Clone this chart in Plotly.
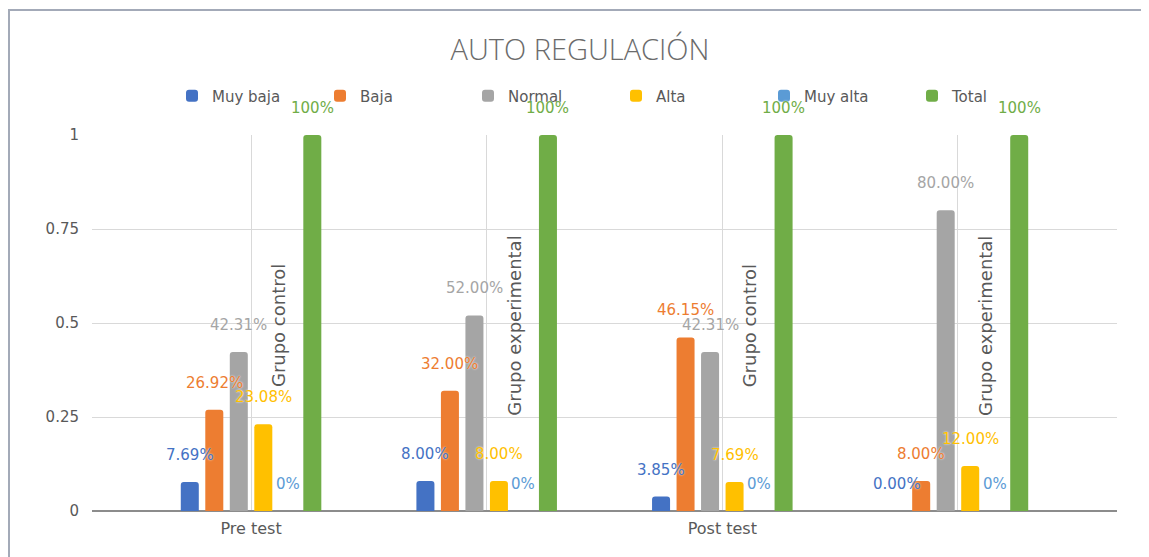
import plotly.graph_objects as go

# ---------------- data ----------------
categories = ["Pre test · Grupo control", "Pre test · Grupo experimental",
              "Post test · Grupo control", "Post test · Grupo experimental"]
tick_text = ["Pre test", "", "Post test", ""]
group_labels = ["Grupo control", "Grupo experimental", "Grupo control", "Grupo experimental"]

series_names = ["Muy baja", "Baja", "Normal", "Alta", "Muy alta", "Total"]
muy_baja = [0.0769, 0.08, 0.0385, 0.0]
baja = [0.2692, 0.32, 0.4615, 0.08]
normal = [0.4231, 0.52, 0.4231, 0.80]
alta = [0.2308, 0.08, 0.0769, 0.12]
muy_alta = [0.0, 0.0, 0.0, 0.0]
total = [1.0, 1.0, 1.0, 1.0]

lbl_muy_baja = ["7.69%", "8.00%", "3.85%", "0.00%"]
lbl_baja = ["26.92%", "32.00%", "46.15%", "8.00%"]
lbl_normal = ["42.31%", "52.00%", "42.31%", "80.00%"]
lbl_alta = ["23.08%", "8.00%", "7.69%", "12.00%"]
lbl_muy_alta = ["0%", "0%", "0%", "0%"]
lbl_total = ["100%", "100%", "100%", "100%"]

series_values = [muy_baja, baja, normal, alta, muy_alta, total]
series_labels = [lbl_muy_baja, lbl_baja, lbl_normal, lbl_alta, lbl_muy_alta, lbl_total]
colors = ["#4472C4", "#ED7D31", "#A5A5A5", "#FFC000", "#5B9BD5", "#70AD47"]

# ---------------- layout constants ----------------
OFF = 8                      # page body margin
W, H = 1149 - OFF, 557 - OFF
PL, PR, PT, PB = 92, 1117, 135, 511   # plot area in page pixels
ML, MR, MT, MB = PL - OFF, 1149 - PR, PT - OFF, 557 - PB
PLOT_W = PR - PL
PLOT_H = PB - PT
XR = [-0.675, 3.675]
UNIT = PLOT_W / (XR[1] - XR[0])
BARGAP = 0.376
STEP = UNIT * (1 - BARGAP) / 6

TXT = "#595959"
FONT = "DejaVu Sans"


def px_to_paper_x(px):
    return (px - PL) / PLOT_W


def px_to_paper_y(py):
    return (PB - py) / PLOT_H


fig = go.Figure()
for name, vals, col in zip(series_names, series_values, colors):
    fig.add_trace(go.Bar(name=name, x=categories, y=vals, marker_color=col,
                         marker_line_width=0))

annotations = []
for i, (vals, labs, col) in enumerate(zip(series_values, series_labels, colors)):
    for cat, v, t in zip(categories, vals, labs):
        annotations.append(dict(
            x=cat, y=v, xref="x", yref="y", text=t, showarrow=False,
            xshift=(i - 2.5) * STEP, yshift=27,
            font=dict(family=FONT, size=15, color=col,
                      shadow="0px 0px 2px white"),
        ))

for cat, g in zip(categories, group_labels):
    annotations.append(dict(
        x=cat, y=0.492, xref="x", yref="y", text=g, showarrow=False,
        textangle=-90, xshift=27,
        font=dict(family=FONT, size=18, color=TXT),
    ))

shapes = [
    dict(type="line", xref="paper", yref="paper",
         x0=px_to_paper_x(8), x1=px_to_paper_x(1160),
         y0=px_to_paper_y(10), y1=px_to_paper_y(10),
         line=dict(color="#A3AAB8", width=2)),
    dict(type="line", xref="paper", yref="paper",
         x0=px_to_paper_x(9), x1=px_to_paper_x(9),
         y0=px_to_paper_y(10), y1=px_to_paper_y(570),
         line=dict(color="#A3AAB8", width=2)),
]

fig.update_layout(
    width=W, height=H,
    margin=dict(l=ML, r=MR, t=MT, b=MB),
    paper_bgcolor="white", plot_bgcolor="white",
    barmode="group", bargap=BARGAP, bargroupgap=0.265,
    barcornerradius=3,
    title=dict(text="AUTO REGULACIÓN", x=(580 - OFF) / W, xref="container", xanchor="center",
               y=1 - (50 - OFF) / H, yref="container", yanchor="middle",
               font=dict(family="Open Sans", size=29, color="#6b6b6b", weight=300)),
    legend=dict(orientation="h", x=px_to_paper_x(172), xanchor="left",
                y=px_to_paper_y(96), yanchor="middle",
                entrywidth=103, entrywidthmode="pixels",
                font=dict(family=FONT, size=15, color=TXT),
                bgcolor="rgba(0,0,0,0)", traceorder="normal"),
    xaxis=dict(type="category", range=XR, tickvals=categories, ticktext=tick_text,
               showgrid=True, gridcolor="#D9D9D9", gridwidth=1,
               showline=False, ticks="", ticklabelstandoff=6,
               tickfont=dict(family=FONT, size=16, color=TXT)),
    yaxis=dict(range=[0, 1.0], dtick=0.25, tick0=0, showgrid=True,
               gridcolor="#D9D9D9", gridwidth=1,
               zeroline=True, zerolinecolor="#8C8C8C", zerolinewidth=2,
               showline=False, ticks="", ticklabelstandoff=12,
               tickfont=dict(family=FONT, size=15, color=TXT)),
    annotations=annotations,
    shapes=shapes,
    showlegend=True,
)

fig.write_html("out.html")
